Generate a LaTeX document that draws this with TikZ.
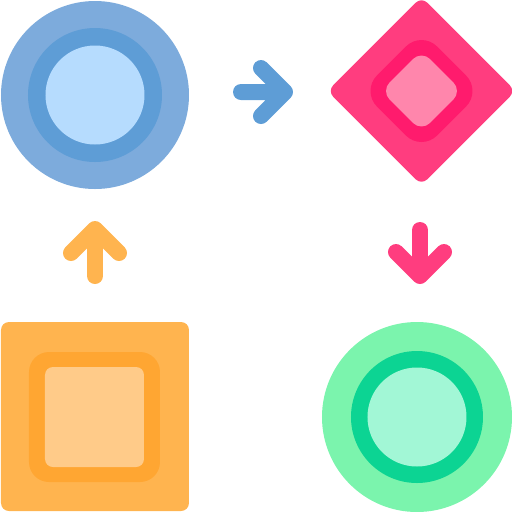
\documentclass[tikz,border=0pt]{standalone}
\usepackage{tikz}

\definecolor{blueOut}{HTML}{7DABDC}
\definecolor{blueRing}{HTML}{5E9DD6}
\definecolor{blueIn}{HTML}{B6DCFE}
\definecolor{pinkOut}{HTML}{FF3D7F}
\definecolor{pinkRing}{HTML}{FF1B6D}
\definecolor{pinkIn}{HTML}{FF86AC}
\definecolor{orangeOut}{HTML}{FFB44F}
\definecolor{orangeRing}{HTML}{FFA632}
\definecolor{orangeIn}{HTML}{FFCB89}
\definecolor{greenOut}{HTML}{7BF4AD}
\definecolor{greenRing}{HTML}{0CD493}
\definecolor{greenIn}{HTML}{A2F7D6}

\tikzset{
  flowarrow/.style={line width=0.32cm,line cap=round,line join=round}
}

\begin{document}
\begin{tikzpicture}[x=0.02cm,y=-0.02cm]
  \useasboundingbox (0,0) rectangle (512,512);

  % cercul albastru
  \coordinate (c1) at (95,95);
  \fill[blueOut] (c1) circle [radius=94];
  \fill[blueRing] (c1) circle [radius=67];
  \fill[blueIn] (c1) circle [radius=49.5];

  % rombul roz
  \coordinate (c2) at (421.5,91);
  \begin{scope}[shift={(c2)},rotate=45]
    \fill[pinkOut,rounded corners=0.16cm] (-66.5,-66.5) rectangle (66.5,66.5);
    \fill[pinkRing,rounded corners=0.44cm] (-42.5,-42.5) rectangle (42.5,42.5);
    \fill[pinkIn,rounded corners=0.24cm] (-28.6,-28.6) rectangle (28.6,28.6);
  \end{scope}

  % cercul verde
  \coordinate (c3) at (417,417);
  \fill[greenOut] (c3) circle [radius=95];
  \fill[greenRing] (c3) circle [radius=66];
  \fill[greenIn] (c3) circle [radius=49.5];

  % patratul portocaliu
  \fill[orangeOut,rounded corners=0.16cm] (1,322) rectangle (189,511);
  \fill[orangeRing,rounded corners=0.4cm] (29,352) rectangle (160,482);
  \fill[orangeIn,rounded corners=0.16cm] (45,367) rectangle (144,467);

  % sagetile
  \coordinate (r1) at (241,92);
  \coordinate (r2) at (285,92);
  \draw[flowarrow,blueRing] (r1) -- (r2) (261,68) -- (r2) -- (261,116);

  \coordinate (d1) at (420,230);
  \coordinate (d2) at (420,276);
  \draw[flowarrow,pinkOut] (d1) -- (d2) (396,252) -- (d2) -- (444,252);

  \coordinate (u1) at (95,276);
  \coordinate (u2) at (95,229);
  \draw[flowarrow,orangeOut] (u1) -- (u2) (71,253) -- (u2) -- (119,253);
\end{tikzpicture}
\end{document}
